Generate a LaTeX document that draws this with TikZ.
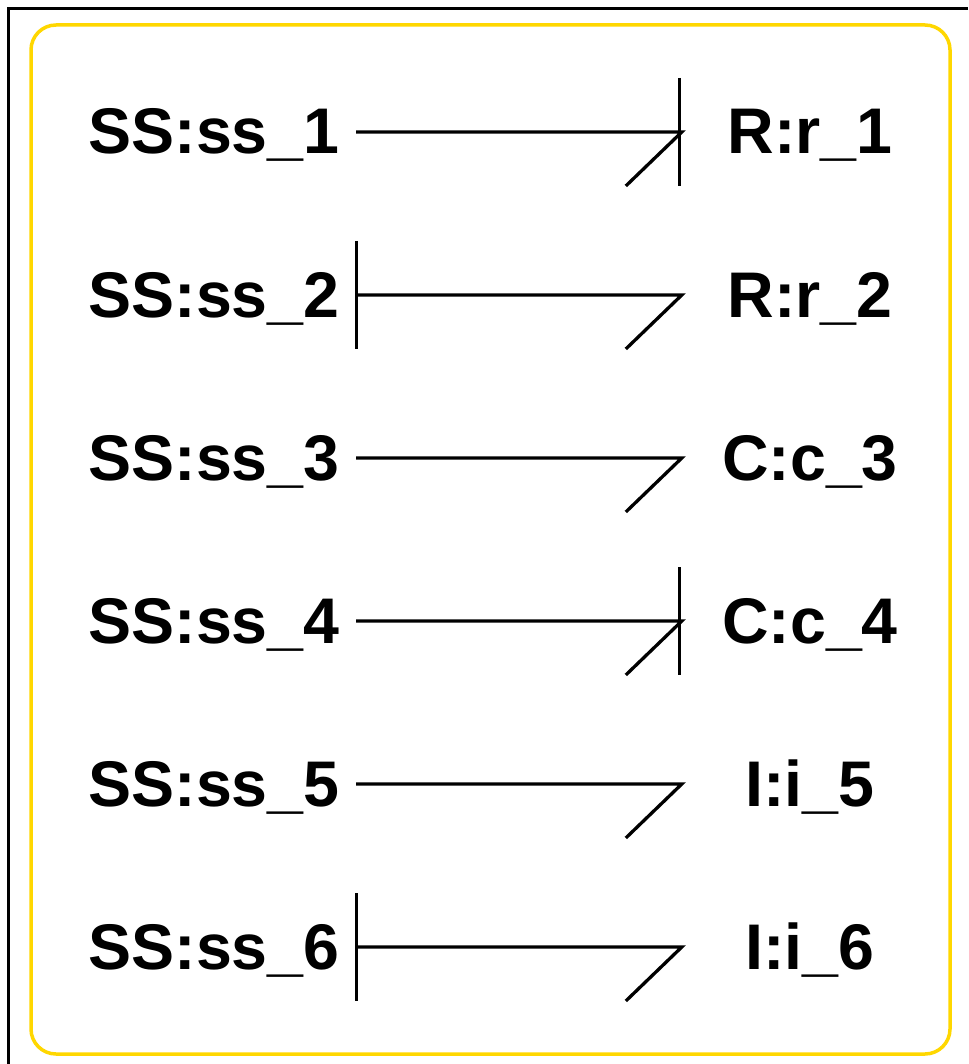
\documentclass[tikz,border=0pt]{standalone}
\usepackage{fontspec}
\setmainfont{Liberation Sans}
\definecolor{boxgold}{HTML}{FFD700}
\begin{document}
\begin{tikzpicture}[x=1pt,y=-1pt,
  lbl/.style={font=\fontsize{64.5}{70}\selectfont\bfseries, inner sep=0pt,
    text height=52pt, text depth=8pt, align=center},
  leftlbl/.style={lbl, minimum width=284pt},
  rightlbl/.style={lbl, minimum width=256pt},
  bond/.style={line width=3.3pt, line cap=butt, line join=miter},
  stroke/.style={line width=3.3pt, line cap=butt}]
\useasboundingbox (0,0) rectangle (968,1064);
\draw[line width=3pt] (8.5,1064) -- (8.5,8.5) -- (968,8.5);
\draw[boxgold, line width=3.5pt, rounded corners=25pt] (31,25) rectangle (950,1054);

\foreach \i/\y/\r in {1/132/R:r\_1, 2/295/R:r\_2, 3/458/C:c\_3, 4/621/C:c\_4, 5/784/I:i\_5, 6/947/I:i\_6}{
  \node[leftlbl] (s\i) at (214,\y) {SS:ss\_\i};
  \node[rightlbl] (r\i) at (810,\y) {\r};
  \draw[bond] (s\i.east) -- (r\i.west) -- ++(-56,54);
}
% causal strokes at the tip
\draw[stroke] ([xshift=-2pt]r1.west) ++(0,-54) -- ++(0,108);
\draw[stroke] ([xshift=-2pt]r4.west) ++(0,-54) -- ++(0,108);
% causal strokes at the tail
\draw[stroke] (s2.east) ++(0,-54) -- ++(0,108);
\draw[stroke] (s6.east) ++(0,-54) -- ++(0,108);
\end{tikzpicture}
\end{document}
